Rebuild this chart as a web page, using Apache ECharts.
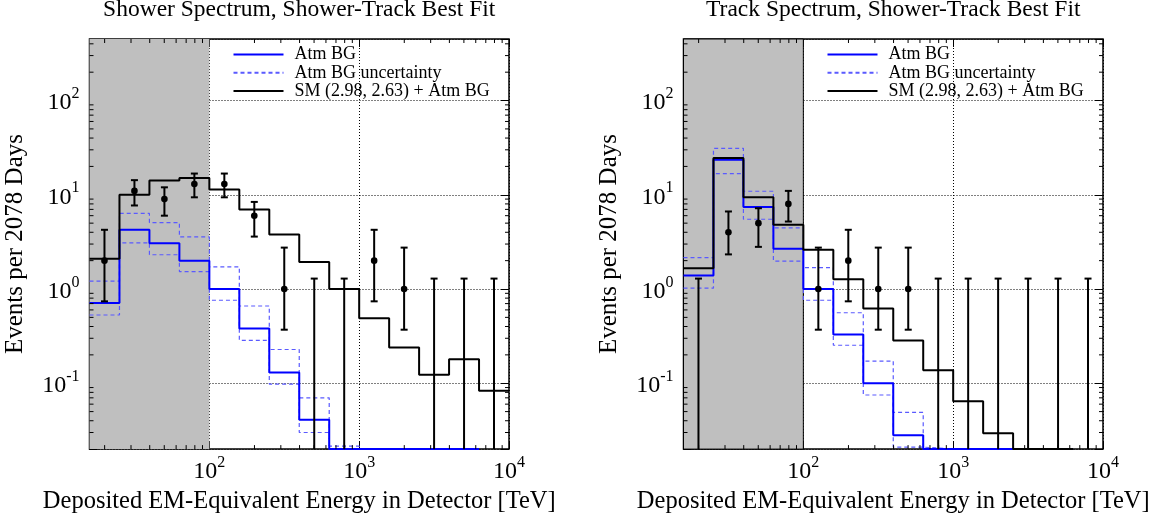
<!DOCTYPE html>
<html><head><meta charset="utf-8">
<script src="https://cdn.jsdelivr.net/npm/echarts@6/dist/echarts.min.js"></script>
<style>html,body{margin:0;padding:0;background:#fff;}#c{width:1161px;height:519px;}</style>
</head><body><div id="c"></div>
<script>
// ---- data ----
const binEdges   = [15.85, 25.12, 39.81, 63.10, 100, 158.5, 251.2, 398.1, 631.0, 1000, 1585, 2512, 3981, 6310, 10000];
const binCenters = [19.95, 31.62, 50.12, 79.43, 125.9, 199.5, 316.2, 501.2, 794.3, 1259, 1995, 3162, 5012, 7943];
const xMin = 15.85, xMax = 10000, yMin = 0.02, yMax = 450;
const shadeMax = 100;
const xMinorTicks = [20, 30, 40, 50, 60, 70, 80, 90, 200, 300, 400, 500, 600, 700, 800, 900,
                     2000, 3000, 4000, 5000, 6000, 7000, 8000, 9000];
const yMinorTicks = [0.03, 0.04, 0.05, 0.06, 0.07, 0.08, 0.09, 0.2, 0.3, 0.4, 0.5, 0.6, 0.7, 0.8, 0.9,
                     2, 3, 4, 5, 6, 7, 8, 9, 20, 30, 40, 50, 60, 70, 80, 90, 200, 300, 400];

const panelTitles = ['Shower Spectrum, Shower-Track Best Fit', 'Track Spectrum, Shower-Track Best Fit'];
const legendNames = ['Atm BG', 'Atm BG uncertainty', 'SM (2.98, 2.63) + Atm BG'];

// shower panel
const showerModel = [2.1, 10.0, 14.2, 15.1, 11.4, 7.0, 3.8, 1.94, 1.0, 0.49, 0.24, 0.123, 0.18, 0.083];
const showerAtm   = [0.71, 4.25, 3.06, 1.99, 1.0, 0.38, 0.13, 0.041, 0.02, 0.02, 0.02, 0.02, 0.02];
const showerAtmHi = [1.21, 6.34, 5.06, 3.57, 1.72, 0.66, 0.228, 0.07, 0.0215, 0.02, 0.02, 0.02, 0.02];
const showerAtmLo = [0.53, 3.09, 2.31, 1.53, 0.76, 0.285, 0.098, 0.030, 0.02, 0.02, 0.02, 0.02, 0.02];
const showerCounts = [2, 11, 9, 13, 13, 6, 1, 0, 0, 2, 1, 0, 0, 0];
const showerErrLo  = [0.74, 7.7, 6.0, 9.4, 9.4, 3.6, 0.37, 0, 0, 0.74, 0.37, 0, 0, 0];
const showerErrHi  = [4.25, 14.3, 12.0, 16.8, 16.8, 8.4, 2.75, 1.29, 1.29, 4.25, 2.75, 1.29, 1.29, 1.29];

// track panel
const trackModel = [1.66, 24.5, 9.4, 4.8, 2.61, 1.27, 0.62, 0.285, 0.137, 0.0645, 0.0294, 0.02, 0.02];
const trackAtm   = [1.39, 23.5, 7.4, 2.67, 1.0, 0.33, 0.10, 0.028, 0.02, 0.02, 0.02, 0.02, 0.02];
const trackAtmHi = [2.15, 31.1, 10.9, 4.46, 1.69, 0.56, 0.172, 0.049, 0.02, 0.02, 0.02, 0.02, 0.02];
const trackAtmLo = [1.02, 16.8, 5.5, 1.98, 0.76, 0.253, 0.075, 0.021, 0.02, 0.02, 0.02, 0.02, 0.02];
const trackCounts = [0, 4, 5, 8, 1, 2, 1, 1, 0, 0, 0, 0, 0, 0];
const trackErrLo  = [0, 2.33, 2.8, 5.2, 0.37, 0.74, 0.37, 0.37, 0, 0, 0, 0, 0, 0];
const trackErrHi  = [1.29, 6.65, 7.2, 11.0, 2.75, 4.25, 2.75, 2.75, 1.29, 1.29, 1.29, 1.29, 1.29, 1.29];

// ---- helpers ----
const FONT = 'Liberation Serif';
const grids = [
  {left: 89.5, top: 39, width: 419.5, height: 417},
  {left: 683.5, top: 39, width: 419.5, height: 417}
];

function stepData(vals) {
  const d = vals.map((v, i) => [binEdges[i], v]);
  d.push([binEdges[vals.length], vals[vals.length - 1]]);
  return d;
}
function errData(counts, lo, hi) {
  return counts.map((c, i) => [binCenters[i], c, lo[i], hi[i]]);
}
function powLabel(v) {
  const e = Math.log10(v), r = Math.round(e);
  if (Math.abs(e - r) > 1e-6) return '';
  return '{b|10}{s|' + r + '}';
}
const rich = {
  b: {fontFamily: FONT, fontSize: 24, color: '#000', lineHeight: 29, verticalAlign: 'bottom'},
  s: {fontFamily: FONT, fontSize: 16, color: '#000', lineHeight: 16, verticalAlign: 'top'}
};
const tickStyle = {color: '#000', width: 1};
const MINOR = 4;

function renderErr(params, api) {
  const x = api.value(0), c = api.value(1), lo = api.value(2), hi = api.value(3);
  const cs = params.coordSys;
  const bottom = cs.y + cs.height;
  const pHi = api.coord([x, hi]);
  const px = pHi[0];
  const yLo = lo > 0 ? api.coord([x, lo])[1] : bottom;
  const st = {stroke: '#000', lineWidth: 2};
  const ch = [
    {type: 'line', shape: {x1: px, y1: yLo, x2: px, y2: pHi[1]}, style: st},
    {type: 'line', shape: {x1: px - 3.5, y1: pHi[1], x2: px + 3.5, y2: pHi[1]}, style: st}
  ];
  if (lo > 0) ch.push({type: 'line', shape: {x1: px - 3.5, y1: yLo, x2: px + 3.5, y2: yLo}, style: st});
  if (c > 0) {
    const p = api.coord([x, c]);
    ch.push({type: 'circle', shape: {cx: p[0], cy: p[1], r: 3.3}, style: {fill: '#000'}});
  }
  return {type: 'group', children: ch};
}
function renderXMinor(params, api) {
  const cs = params.coordSys;
  const x = api.coord([api.value(0), yMin])[0];
  const st = {stroke: '#000', lineWidth: 1};
  return {type: 'group', children: [
    {type: 'line', shape: {x1: x, y1: cs.y + cs.height, x2: x, y2: cs.y + cs.height - MINOR}, style: st},
    {type: 'line', shape: {x1: x, y1: cs.y, x2: x, y2: cs.y + MINOR}, style: st}
  ]};
}
function renderYMinor(params, api) {
  const cs = params.coordSys;
  const y = api.coord([xMin, api.value(1)])[1];
  const st = {stroke: '#000', lineWidth: 1};
  return {type: 'group', children: [
    {type: 'line', shape: {x1: cs.x, y1: y, x2: cs.x + MINOR, y2: y}, style: st},
    {type: 'line', shape: {x1: cs.x + cs.width, y1: y, x2: cs.x + cs.width - MINOR, y2: y}, style: st}
  ]};
}

const xAxes = [], yAxes = [], series = [], titles = [], legends = [];
const panels = [
  {model: showerModel, atm: showerAtm, hi: showerAtmHi, lo: showerAtmLo, counts: showerCounts, eLo: showerErrLo, eHi: showerErrHi},
  {model: trackModel, atm: trackAtm, hi: trackAtmHi, lo: trackAtmLo, counts: trackCounts, eLo: trackErrLo, eHi: trackErrHi}
];

panels.forEach((p, gi) => {
  const g = grids[gi];
  const xi = xAxes.length, yi = yAxes.length;
  xAxes.push({
    type: 'log', logBase: 10, gridIndex: gi, min: xMin, max: xMax, position: 'bottom',
    axisLine: {show: false},
    axisTick: {inside: true, length: 8, lineStyle: tickStyle},
    minorTick: {show: false},
    splitLine: {show: true, lineStyle: {type: [1, 2], color: '#000', width: 1}},
    axisLabel: {formatter: powLabel, margin: 6, rich: rich, showMinLabel: true, showMaxLabel: true},
    name: 'Deposited EM-Equivalent Energy in Detector [TeV]', nameLocation: 'middle', nameGap: 32,
    nameTextStyle: {fontFamily: FONT, fontSize: 24.5, color: '#000'}
  });
  xAxes.push({
    type: 'log', logBase: 10, gridIndex: gi, min: xMin, max: xMax, position: 'top',
    axisLine: {show: false},
    axisTick: {inside: true, length: 8, lineStyle: tickStyle},
    minorTick: {show: false},
    splitLine: {show: false}, axisLabel: {show: false}
  });
  yAxes.push({
    type: 'log', logBase: 10, gridIndex: gi, min: yMin, max: yMax, position: 'left',
    axisLine: {show: false},
    axisTick: {inside: true, length: 8, lineStyle: tickStyle},
    minorTick: {show: false},
    splitLine: {show: true, lineStyle: {type: [1, 2], color: '#000', width: 1}},
    axisLabel: {formatter: powLabel, margin: 10, rich: rich, showMinLabel: true, showMaxLabel: true},
    name: 'Events per 2078 Days', nameLocation: 'middle', nameGap: 62, nameRotate: 90,
    nameTextStyle: {fontFamily: FONT, fontSize: 25, color: '#000'}
  });
  yAxes.push({
    type: 'log', logBase: 10, gridIndex: gi, min: yMin, max: yMax, position: 'right',
    axisLine: {show: false},
    axisTick: {inside: true, length: 8, lineStyle: tickStyle},
    minorTick: {show: false},
    splitLine: {show: false}, axisLabel: {show: false}
  });
  // shaded region
  series.push({
    type: 'line', xAxisIndex: xi, yAxisIndex: yi, data: [], z: -1, silent: true,
    markArea: {silent: true,
      itemStyle: gi === 1 ? {color: '#bfbfbf', borderColor: '#000', borderWidth: 1} : {color: '#bfbfbf'},
      data: [[{xAxis: xMin}, {xAxis: shadeMax}]]}
  });
  // minor ticks
  series.push({type: 'custom', xAxisIndex: xi, yAxisIndex: yi, renderItem: renderXMinor, silent: true,
    data: xMinorTicks.map(v => [v, yMin]), encode: {x: 0, y: 1}, z: 6, clip: false});
  series.push({type: 'custom', xAxisIndex: xi, yAxisIndex: yi, renderItem: renderYMinor, silent: true,
    data: yMinorTicks.map(v => [xMin, v]), encode: {x: 0, y: 1}, z: 6, clip: false});

  const dashStyle = {color: '#5a5aff', width: 1.2, type: [4, 3]};
  series.push({name: legendNames[1], type: 'line', step: 'end', xAxisIndex: xi, yAxisIndex: yi,
    data: stepData(p.hi), showSymbol: false, symbol: 'none', lineStyle: dashStyle, itemStyle: {color: '#5a5aff'}, z: 2, silent: true});
  series.push({name: legendNames[1], type: 'line', step: 'end', xAxisIndex: xi, yAxisIndex: yi,
    data: stepData(p.lo), showSymbol: false, symbol: 'none', lineStyle: dashStyle, itemStyle: {color: '#5a5aff'}, z: 2, silent: true});
  series.push({name: legendNames[0], type: 'line', step: 'end', xAxisIndex: xi, yAxisIndex: yi,
    data: stepData(p.atm), showSymbol: false, symbol: 'none', lineStyle: {color: '#0000ff', width: 2}, itemStyle: {color: '#0000ff'}, z: 3, silent: true});
  series.push({name: legendNames[2], type: 'line', step: 'end', xAxisIndex: xi, yAxisIndex: yi,
    data: stepData(p.model), showSymbol: false, symbol: 'none', lineStyle: {color: '#000', width: 2}, itemStyle: {color: '#000'}, z: 4, silent: true});
  series.push({type: 'custom', xAxisIndex: xi, yAxisIndex: yi, renderItem: renderErr,
    data: errData(p.counts, p.eLo, p.eHi), encode: {x: 0, y: 3}, z: 5, silent: true});

  titles.push({text: panelTitles[gi], left: g.left + g.width / 2, top: -2, textAlign: 'center', padding: 0,
    textStyle: {fontFamily: FONT, fontSize: 23.5, fontWeight: 'normal', color: '#000'}});
  legends.push({data: legendNames, orient: 'vertical', left: g.left + 143, top: 45.5, padding: 0,
    itemWidth: 50, itemHeight: 18, itemGap: 0.3, selectedMode: false,
    itemStyle: {opacity: 0},
    textStyle: {fontFamily: FONT, fontSize: 18, color: '#000', lineHeight: 18, padding: [0, 0, 0, 6]}});
});

const chart = echarts.init(document.getElementById('c'), null, {renderer: 'canvas'});
chart.setOption({
  backgroundColor: '#fff',
  animation: false,
  title: titles,
  legend: legends,
  grid: grids.map(g => Object.assign({show: true, borderColor: '#000', borderWidth: 1.5, backgroundColor: 'transparent', containLabel: false}, g)),
  xAxis: xAxes,
  yAxis: yAxes,
  series: series
});
</script></body></html>
